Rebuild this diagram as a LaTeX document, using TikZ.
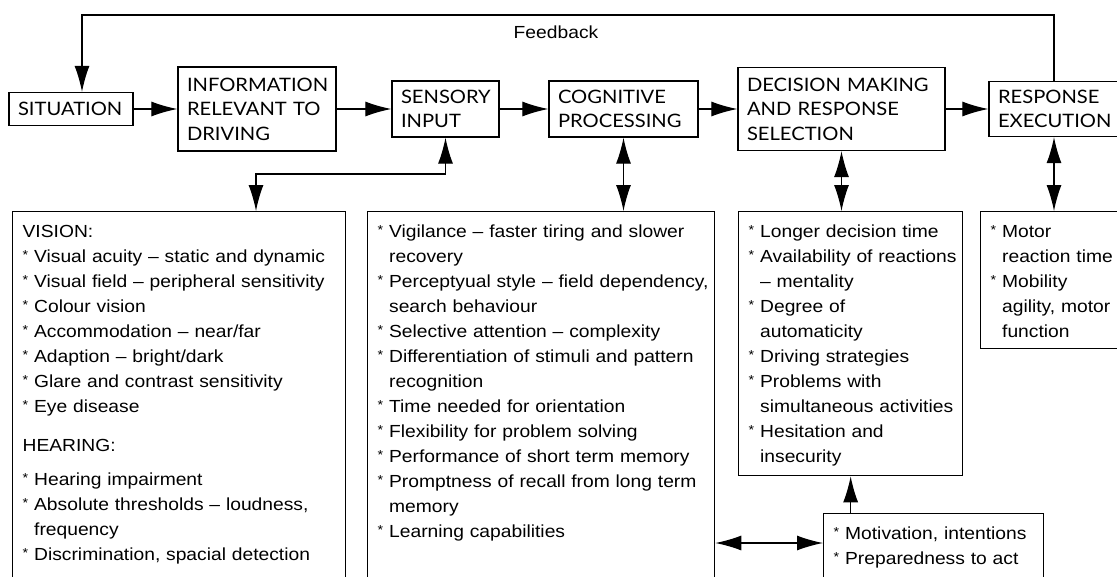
\documentclass[tikz,border=0pt]{standalone}
\usepackage{fontspec}
\setmainfont{Liberation Sans}[FakeStretch=1.1]
\newfontfamily\capsfont{Lato}[FakeStretch=1.09]
\usepackage{tikz}
\usetikzlibrary{arrows.meta}
\newcommand{\itm}{\makebox[11.5pt][l]{\raisebox{3pt}{\fontsize{13}{13}\selectfont *}}}
\newcommand{\ind}{\hspace*{11.5pt}}

\begin{document}
\begin{tikzpicture}[x=1pt,y=-1pt,font=\fontsize{17.5}{25}\selectfont,
        head/.style={draw,line width=1.3pt,font=\capsfont\fontsize{18.5}{24.5}\selectfont,align=left,inner xsep=9pt,inner ysep=0pt},
        list/.style={draw,line width=1.3pt,anchor=north west,align=left,inner xsep=10pt,inner ysep=8pt},
        arr/.style={line width=1.2pt,-{Latex[length=26pt,width=15pt]}},
        dbl/.style={line width=1.2pt,{Latex[length=26pt,width=15pt]}-{Latex[length=26pt,width=15pt]}}]
        \useasboundingbox (0,0) rectangle (1117,576);
        \clip (0,0) rectangle (1117,576);

        \node[head,minimum width=124pt,minimum height=33pt,text width=106pt] (sit) at (71,109) {SITUATION};
        \node[head,minimum width=158pt,minimum height=84pt,text width=140pt] (info) at (257,109) {INFORMATION\\RELEVANT TO\\DRIVING};
        \node[head,minimum width=107pt,minimum height=56pt,text width=89pt] (sens) at (445.5,109) {SENSORY\\INPUT};
        \node[head,minimum width=149pt,minimum height=56pt,text width=131pt] (cog) at (623.5,109) {COGNITIVE\\PROCESSING};
        \node[head,minimum width=207pt,minimum height=83pt,text width=189pt] (dec) at (841.5,109) {DECISION MAKING\\AND RESPONSE\\SELECTION};
        \node[head,minimum width=130pt,minimum height=55pt,text width=112pt] (resp) at (1054,109) {RESPONSE\\EXECUTION};

        \draw[arr] (sit) to (info);
        \draw[arr] (info) to (sens);
        \draw[arr] (sens) to (cog);
        \draw[arr] (cog) to (dec);
        \draw[arr] (dec) to (resp);

        \coordinate (fbl) at (82,15);
        \node (fb) at (556,32) {Feedback};
        \draw[arr] (resp.north) |- (fbl) -- (fbl |- sit.north);

        \node[list,text width=313pt,text depth=355pt] (vis) at (12,211) {\begin{tabular}[t]{@{}l@{}}
            VISION:\\
            \itm Visual acuity – static and dynamic\\
            \itm Visual field – peripheral sensitivity\\
            \itm Colour vision\\
            \itm Accommodation – near/far\\
            \itm Adaption – bright/dark\\
            \itm Glare and contrast sensitivity\\
            \itm Eye disease\\[14pt]
            HEARING:\\[9pt]
            \itm Hearing impairment\\
            \itm Absolute thresholds – loudness,\\
            \ind frequency\\
            \itm Discrimination, spacial detection
          \end{tabular}};

        \node[list,text width=327pt,text depth=355pt] (cogl) at (367,211) {\begin{tabular}[t]{@{}l@{}}
            \itm Vigilance – faster tiring and slower\\
            \ind recovery\\
            \itm Perceptyual style – field dependency,\\
            \ind search behaviour\\
            \itm Selective attention – complexity\\
            \itm Differentiation of stimuli and pattern\\
            \ind recognition\\
            \itm Time needed for orientation\\
            \itm Flexibility for problem solving\\
            \itm Performance of short term memory\\
            \itm Promptness of recall from long term\\
            \ind memory\\
            \itm Learning capabilities
          \end{tabular}};

        \node[list,text width=204pt,text depth=230.5pt] (decl) at (738,211) {\begin{tabular}[t]{@{}l@{}}
            \itm Longer decision time\\
            \itm Availability of reactions\\
            \ind – mentality\\
            \itm Degree of\\
            \ind automaticity\\
            \itm Driving strategies\\
            \itm Problems with\\
            \ind simultaneous activities\\
            \itm Hesitation and\\
            \ind insecurity
          \end{tabular}};

        \node[list,text width=125pt,text depth=103.5pt] (motor) at (980,211) {\begin{tabular}[t]{@{}l@{}}
            \itm Motor\\
            \ind reaction time\\
            \itm Mobility\\
            \ind agility, motor\\
            \ind function
          \end{tabular}};

        \node[list,text width=200pt,text depth=53.5pt] (motiv) at (823,513) {\begin{tabular}[t]{@{}l@{}}
            \itm Motivation, intentions\\
            \itm Preparedness to act
          \end{tabular}};

        \coordinate (vsn) at (256,174);
        \draw[dbl] (sens.south) |- (vsn) -- (vsn |- vis.north);
        \draw[dbl] (cog.south) -- (cog.south |- cogl.north);
        \draw[dbl] (dec.south) -- (dec.south |- decl.north);
        \draw[dbl] (resp.south) -- (resp.south |- motor.north);
        \draw[arr] (decl.south |- motiv.north) -- (decl.south);
        \coordinate (mid) at (768,543);
        \draw[dbl] (mid -| cogl.east) -- (mid -| motiv.west);
\end{tikzpicture}
\end{document}
